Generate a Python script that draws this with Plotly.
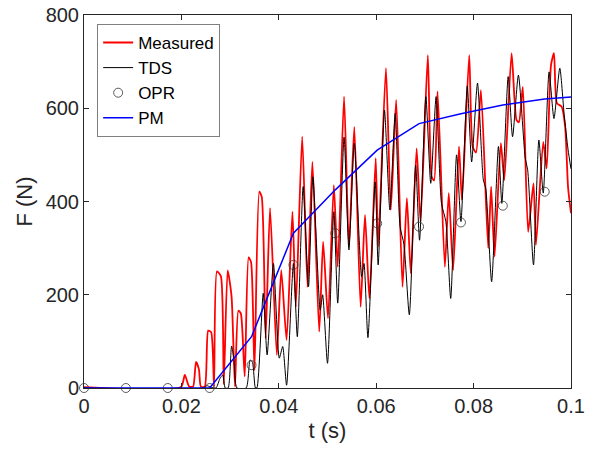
import plotly.graph_objects as go

# Measured force (red)
meas_t = [0, 0.0199, 0.0207, 0.0216, 0.0224, 0.0230, 0.0236, 0.0240, 0.0248, 0.0255,
          0.0261, 0.0267, 0.0273, 0.0281, 0.0287, 0.0295, 0.0303, 0.0310, 0.0317, 0.0322,
          0.0330, 0.0338, 0.0343, 0.0350, 0.0360, 0.0365, 0.0373, 0.0382, 0.0396, 0.0405,
          0.0416, 0.0428, 0.0435, 0.0448, 0.0459, 0.0469, 0.0483, 0.0491, 0.0501, 0.0513,
          0.0521, 0.0534, 0.0544, 0.0555, 0.0568, 0.0577, 0.0586, 0.0599, 0.0604, 0.0620,
          0.0630, 0.0641, 0.0654, 0.0663, 0.0671, 0.0683, 0.0691, 0.0706, 0.0714, 0.0719,
          0.0726, 0.0741, 0.0749, 0.0758, 0.0770, 0.0776, 0.0791, 0.0798, 0.0805, 0.0815,
          0.0830, 0.0836, 0.0843, 0.0856, 0.0863, 0.0878, 0.0888, 0.0893, 0.0901, 0.0912,
          0.0923, 0.0928, 0.0943, 0.0950, 0.0959, 0.0965, 0.0971, 0.0981, 0.0988, 0.0994,
          0.1000]
meas_f = [2, 2, 28, 3, 3, 56, 40, 3, 3, 123,
          120, 3, 250, 240, 8, 252, 196, 3, 166, 160,
          25, 280, 270, 38, 421, 410, 107, 386, 71, 253,
          103, 378, 174, 539, 217, 485, 121, 314, 150, 435,
          260, 625, 303, 560, 174, 371, 192, 493, 303, 686,
          382, 618, 217, 407, 246, 514, 357, 714, 453, 445,
          636, 260, 418, 253, 518, 403, 714, 518, 505, 639,
          300, 432, 282, 525, 446, 718, 575, 570, 646, 335,
          439, 307, 528, 471, 693, 718, 611, 603, 560, 430,
          375]

# TDS simulation (black)
tds_t = [0, 0.0244, 0.0253, 0.0259, 0.0271, 0.0279, 0.0285, 0.0290, 0.0296, 0.0303,
         0.0308, 0.0314, 0.0333, 0.0341, 0.0346, 0.0352, 0.0355, 0.0368, 0.0376, 0.0389,
         0.0401, 0.0408, 0.0416, 0.0430, 0.0438, 0.0450, 0.0461, 0.0470, 0.0485, 0.0490,
         0.0500, 0.0513, 0.0521, 0.0534, 0.0544, 0.0555, 0.0570, 0.0575, 0.0583, 0.0598,
         0.0604, 0.0617, 0.0628, 0.0639, 0.0649, 0.0657, 0.0668, 0.0681, 0.0689, 0.0702,
         0.0712, 0.0723, 0.0734, 0.0743, 0.0753, 0.0765, 0.0774, 0.0787, 0.0796, 0.0808,
         0.0820, 0.0825, 0.0837, 0.0851, 0.0858, 0.0871, 0.0880, 0.0892, 0.0906, 0.0911,
         0.0923, 0.0934, 0.0943, 0.0955, 0.0965, 0.0977, 0.0986, 0.0994, 0.1000]
tds_f = [0, 0, 5, 2, 0, 20, 28, 0, 0, 90,
         60, 0, 0, 60, 55, 0, 0, 203, 71, 267,
         64, 89, 6, 267, 110, 432, 217, 453, 167, 200,
         53, 378, 182, 538, 296, 525, 239, 267, 108, 442,
         264, 596, 382, 589, 346, 308, 157, 478, 317, 625,
         439, 625, 396, 357, 192, 500, 357, 648, 485, 654,
         446, 428, 228, 518, 396, 668, 539, 671, 493, 468,
         264, 532, 418, 678, 578, 686, 586, 511, 470]

# OPR (circles)
opr_t = [0, 0.0086, 0.0172, 0.0258, 0.0344, 0.0430, 0.0516, 0.0602, 0.0688, 0.0774, 0.0860, 0.0946]
opr_f = [0, 0, 0, 0, 49, 264, 332, 353, 346, 355, 391, 421]

# PM (blue)
pm_t = [0, 0.0086, 0.0172, 0.0258, 0.0344, 0.0430, 0.0516, 0.0602, 0.0688, 0.0774, 0.0860, 0.0946, 0.1000]
pm_f = [0, 0, 0, 0, 110, 332, 425, 510, 567, 588, 607, 620, 624]

FONT = "Liberation Sans, Arial, sans-serif"

fig = go.Figure()
fig.add_trace(go.Scatter(x=meas_t, y=meas_f, mode="lines", name="Measured",
                         line=dict(color="#ff0000", width=1.8, shape="spline", smoothing=0.6)))
fig.add_trace(go.Scatter(x=tds_t, y=tds_f, mode="lines", name="TDS",
                         line=dict(color="#000000", width=1, shape="spline", smoothing=0.6)))
fig.add_trace(go.Scatter(x=opr_t, y=opr_f, mode="markers", name="OPR", cliponaxis=False,
                         marker=dict(symbol="circle-open", size=9, color="#333333",
                                     line=dict(width=0.8, color="#333333"))))
fig.add_trace(go.Scatter(x=pm_t, y=pm_f, mode="lines", name="PM",
                         line=dict(color="#0000ff", width=1.5)))

axis_common = dict(showgrid=False, zeroline=False, showline=True, linecolor="#262626",
                   linewidth=1, mirror="ticks", ticks="inside", ticklen=5,
                   tickcolor="#262626", automargin=False,
                   tickfont=dict(family=FONT, size=20, color="#262626"))

fig.update_xaxes(range=[0, 0.1], tickvals=[0, 0.02, 0.04, 0.06, 0.08, 0.1],
                 ticktext=["0", "0.02", "0.04", "0.06", "0.08", "0.1"],
                 title=dict(text="t (s)", font=dict(family=FONT, size=22, color="#262626"),
                            standoff=6),
                 **axis_common)
fig.update_yaxes(range=[0, 800], tickvals=[0, 200, 400, 600, 800],
                 title=dict(text="F (N)", font=dict(family=FONT, size=22, color="#262626"),
                            standoff=6),
                 **axis_common)

fig.update_layout(
    width=590, height=451,
    margin=dict(l=84, r=19, t=15, b=63),
    paper_bgcolor="white", plot_bgcolor="white",
    showlegend=True,
    legend=dict(x=0.027, y=0.976, xanchor="left", yanchor="top",
                bgcolor="white", bordercolor="#7f7f7f", borderwidth=1,
                font=dict(family=FONT, size=17, color="#000000"),
                tracegroupgap=0, itemwidth=30),
)

fig.write_html("out.html")
